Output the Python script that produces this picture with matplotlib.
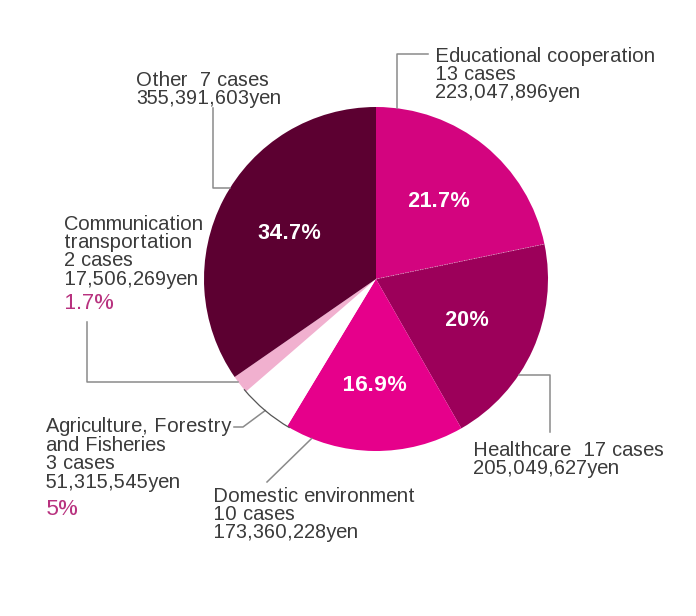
import matplotlib
matplotlib.use("Agg")
import matplotlib.pyplot as plt
import numpy as np
from matplotlib.patches import Arc

plt.rcParams["font.family"] = ["Liberation Sans", "DejaVu Sans"]
plt.rcParams["text.hinting_factor"] = 1

# Grants by field: amount (yen), number of cases
fields = ["Educational cooperation", "Healthcare", "Domestic environment",
          "Agriculture, Forestry and Fisheries", "Communication transportation", "Other"]
amounts = [223047896, 205049627, 173360228, 51315545, 17506269, 355391603]
cases = [13, 17, 10, 3, 2, 7]
pct_labels = ["21.7%", "20%", "16.9%", "5%", "1.7%", "34.7%"]
colors = ["#d3047f", "#9c005a", "#e6008b", "#ffffff", "#f1b0cf", "#5c0031"]

W, H = 696, 616
TXT = "#3b3b3b"
PCT = "#b8327f"
LINE = "#8a8a8a"
STEP = 18.4
FS = 14.2


def py(y):
    return H - y


fig = plt.figure(figsize=(W / 100, H / 100), dpi=100)
ax = fig.add_axes([0, 0, 1, 1])
cx, cy, R = 376, py(279), 172
wedges, _ = ax.pie(amounts, colors=colors, startangle=90, counterclock=False,
                   center=(cx, cy), radius=R, wedgeprops=dict(linewidth=0))
ax.set_xlim(0, W)
ax.set_ylim(0, H)
ax.set_aspect("auto")
ax.axis("off")

# outline on the arc of the white wedge
aw = wedges[3]
ax.add_patch(Arc((cx, cy), 2 * R, 2 * R, theta1=aw.theta1 - 1, theta2=aw.theta2 + 1,
                 color="#555555", lw=0.9, zorder=3))
# faint dotted seam between the first two wedges
t = np.radians(wedges[0].theta1)
ax.plot([cx, cx + R * np.cos(t)], [cy, cy + R * np.sin(t)], color="white",
        lw=0.6, ls=(0, (1, 2)), alpha=0.6, zorder=3)


def mid(i):
    w = wedges[i]
    return np.radians((w.theta1 + w.theta2) / 2)


def edge_pt(i, f):
    w = wedges[i]
    a = np.radians(w.theta1 + f * (w.theta2 - w.theta1))
    return cx + R * np.cos(a), cy + R * np.sin(a)


# percentages inside the large wedges
for i, rf in [(0, 0.58), (1, 0.58), (2, 0.62), (5, 0.57)]:
    a = mid(i)
    ax.text(cx + rf * R * np.cos(a), cy + rf * R * np.sin(a), pct_labels[i],
            color="white", fontsize=15.5, fontweight="bold", ha="center", va="center")


def block(x, ytop, lines, extra=None):
    for k, s in enumerate(lines):
        ax.text(x, py(ytop + k * STEP) - 6.5, s, color=TXT, fontsize=FS,
                ha="left", va="baseline")
    if extra is not None:
        ax.text(x, py(ytop + (len(lines) - 1) * STEP + extra[1]) - 7, extra[0],
                color=PCT, fontsize=15.5, ha="left", va="baseline")


def yen(v):
    return f"{v:,}yen"


block(435, 55, ["Educational cooperation", f"{cases[0]} cases", yen(amounts[0])])
block(136, 79, [f"Other  {cases[5]} cases", yen(amounts[5])])
block(64, 223, ["Communication", "transportation", f"{cases[4]} cases", yen(amounts[4])],
      extra=(pct_labels[4], 24))
block(46, 426, ["Agriculture, Forestry", "and Fisheries", f"{cases[3]} cases", yen(amounts[3])],
      extra=(pct_labels[3], 27))
block(213, 495, ["Domestic environment", f"{cases[2]} cases", yen(amounts[2])])
block(473, 449, [f"Healthcare  {cases[1]} cases", yen(amounts[1])])

# leader lines
lk = dict(color=LINE, lw=1.1, zorder=1)
x0, y0 = edge_pt(0, 0.91)
ax.plot([x0, x0, 428], [y0, py(54), py(54)], **lk)
x0, y0 = edge_pt(5, 0.465)
ax.plot([x0, 213, 213], [y0, y0, py(108)], **lk)
x0, y0 = edge_pt(4, 0.3)
ax.plot([x0, 87, 87], [y0, y0, py(322)], **lk)
x0, y0 = edge_pt(3, 0.5)
ax.plot([x0, 243, 234], [y0, py(427), py(427)], **lk)
x0, y0 = edge_pt(2, 0.15)
ax.plot([x0, 267], [y0, py(482)], **lk)
x0, y0 = edge_pt(1, 0.365)
ax.plot([x0, 550, 550], [y0, y0, py(432)], **lk)

fig.savefig("out.png", dpi=100, facecolor="white")
